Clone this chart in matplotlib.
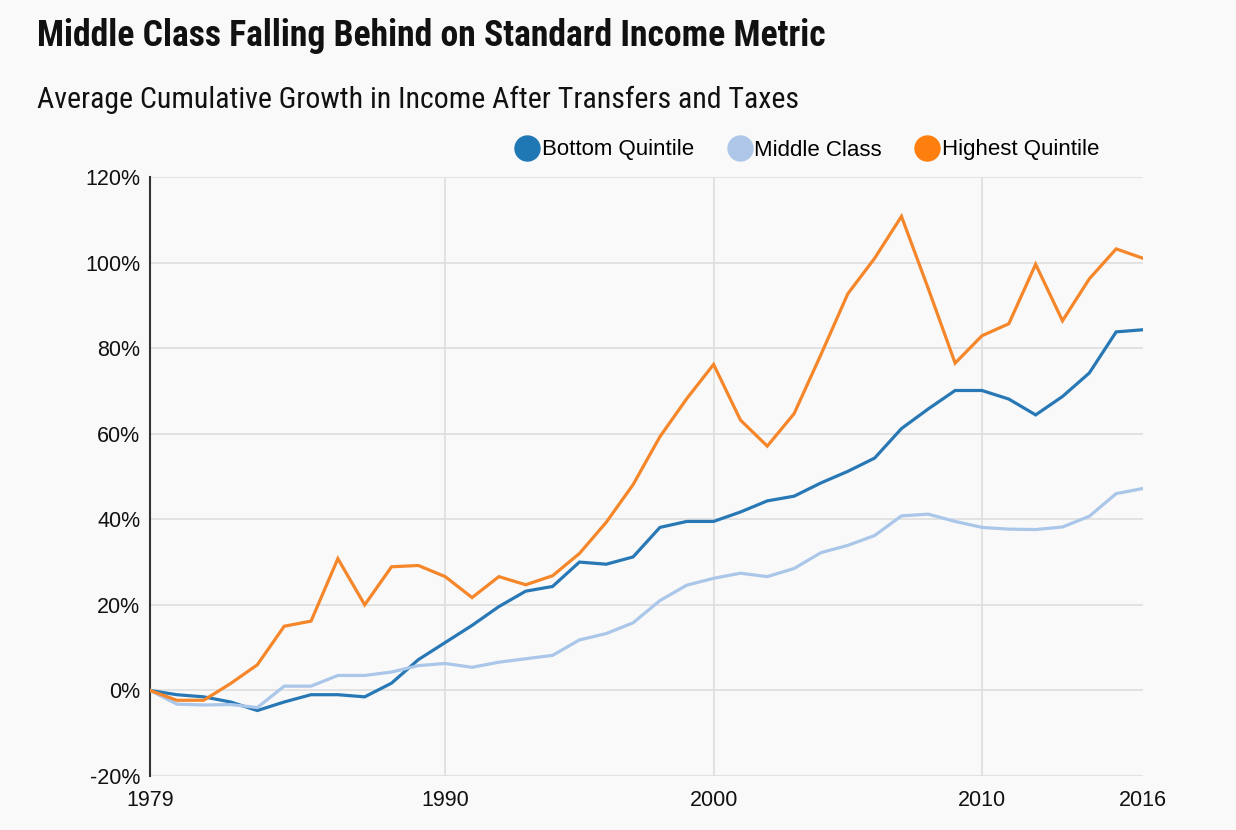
import matplotlib
matplotlib.use("Agg")
import matplotlib.pyplot as plt
from matplotlib.lines import Line2D
from matplotlib.ticker import FuncFormatter
from matplotlib import font_manager as fm

years = list(range(1979, 2017))

bottom_quintile = [0, -1.0, -1.5, -2.7, -4.7, -2.7, -1.0, -1.0, -1.5, 1.7, 7.2, 11.2,
                   15.2, 19.6, 23.2, 24.3, 30.0, 29.5, 31.2, 38.1, 39.5, 39.5, 41.7, 44.3,
                   45.4, 48.5, 51.2, 54.3, 61.2, 65.8, 70.1, 70.1, 68.1, 64.4, 68.7, 74.2,
                   83.8, 84.3]
middle_class = [0, -3.2, -3.4, -3.3, -4.0, 1.0, 1.0, 3.5, 3.5, 4.3, 5.8, 6.3,
                5.4, 6.6, 7.4, 8.2, 11.8, 13.3, 15.8, 21.0, 24.6, 26.2, 27.4, 26.6,
                28.5, 32.2, 33.9, 36.2, 40.8, 41.2, 39.5, 38.1, 37.7, 37.6, 38.2, 40.7,
                46.0, 47.2]
highest_quintile = [0, -2.3, -2.3, 1.6, 6.0, 15.0, 16.2, 30.8, 20.0, 28.9, 29.2, 26.6,
                    21.7, 26.6, 24.7, 26.8, 32.0, 39.3, 48.1, 59.3, 68.2, 76.2, 63.2, 57.1,
                    64.7, 78.5, 92.7, 101.0, 110.8, 93.9, 76.5, 82.9, 85.7, 99.6, 86.4, 96.2,
                    103.2, 101.0]

series_names = ["Bottom Quintile", "Middle Class", "Highest Quintile"]
series_colors = ["#1f77b4", "#aec7e8", "#ff7f0e"]
line_colors = ["#2878b5", "#aac6e8", "#f5862a"]

x_ticks = [1979, 1990, 2000, 2010, 2016]
y_ticks = [-20, 0, 20, 40, 60, 80, 100, 120]

title = "Middle Class Falling Behind on Standard Income Metric"
subtitle = "Average Cumulative Growth in Income After Transfers and Taxes"

names = {f.name for f in fm.fontManager.ttflist}
if "Roboto Condensed" in names:
    head_family = ["Roboto Condensed", "DejaVu Sans"]
else:
    head_family = ["DejaVu Sans"]

bg = "#f9f9f9"
W, H = 1236, 830
fig = plt.figure(figsize=(W / 100, H / 100), dpi=100, facecolor=bg)
ax = fig.add_axes([150 / W, 1 - 776 / H, (1143 - 150) / W, (776 - 177) / H], facecolor=bg)

for vals, c in zip([bottom_quintile, middle_class, highest_quintile], line_colors):
    ax.plot(years, vals, color=c, lw=2.3, solid_joinstyle="miter", zorder=3)

ax.set_xlim(1979, 2016)
ax.set_ylim(-20, 120)
ax.set_xticks(x_ticks)
ax.set_yticks(y_ticks)
ax.yaxis.set_major_formatter(FuncFormatter(lambda v, p: f"{int(v)}%"))
ax.tick_params(length=0, labelsize=15.5, colors="#111111", pad=7)
for lab in ax.get_xticklabels() + ax.get_yticklabels():
    lab.set_fontfamily(["Liberation Sans", "DejaVu Sans"])
ax.tick_params(axis="x", pad=10)

for y in y_ticks:
    ax.axhline(y, color="#dedede", lw=1.2, zorder=1)
for x in [1990, 2000, 2010]:
    ax.axvline(x, color="#dedede", lw=1.2, zorder=1)

for s in ["top", "right", "bottom"]:
    ax.spines[s].set_visible(False)
ax.spines["left"].set_color("#333333")
ax.spines["left"].set_linewidth(1.5)

t1 = fig.text(37 / W, 1 - 46 / H, title, fontsize=27, fontweight="bold",
              family=head_family, color="#111111", va="baseline")
t2 = fig.text(37 / W, 1 - 108 / H, subtitle, fontsize=23, fontweight="normal",
              family=head_family, color="#111111", va="baseline")

# fit widths to the reference
fig.canvas.draw()
r = fig.canvas.get_renderer()
for t, target in [(t1, 789), (t2, 766)]:
    w = t.get_window_extent(r).width
    t.set_fontsize(t.get_fontsize() * target / w)

handles = [Line2D([], [], marker="o", linestyle="none", markersize=18,
                  markerfacecolor=c, markeredgecolor=c) for c in series_colors]
leg = fig.legend(handles, series_names, loc="center right", bbox_to_anchor=(1119 / W, 1 - 150 / H),
                 ncol=3, frameon=False, handletextpad=-0.35, columnspacing=1.05,
                 prop={"family": ["Liberation Sans", "DejaVu Sans"], "size": 16})

fig.savefig("out.png", dpi=100, facecolor=bg)
